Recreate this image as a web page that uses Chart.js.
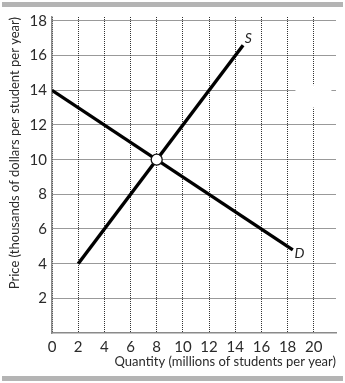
<!DOCTYPE html>
<html><head><meta charset="utf-8">
<script src="https://cdn.jsdelivr.net/npm/chart.js@4"></script>
<style>
html,body{margin:0;padding:0;background:#fff;width:345px;height:383px;overflow:hidden;}
#wrap{position:absolute;left:0;top:0;width:345px;height:383px;}
.bar{position:absolute;left:2px;width:341px;height:5px;background:#b4b4b4;}
</style></head>
<body>
<div id="wrap"><canvas id="c" width="345" height="383"></canvas></div>
<div class="bar" style="top:2px"></div>
<div class="bar" style="top:376px"></div>
<script>
const supplyQ = [2, 14.6];
const supplyP = [4, 16.6];
const demandQ = [0, 18.4];
const demandP = [14, 4.8];
const eqQ = [8];
const eqP = [10];
const xTicks = [0,2,4,6,8,10,12,14,16,18,20];
const yTicks = [2,4,6,8,10,12,14,16,18];
const curveNames = ['S','D'];
const curveLabelQ = [15.0, 18.9];
const curveLabelP = [17.0, 4.6];
// breaks in the printed grid: [q1, p1, q2, p2] rectangles in data units
const gridGaps = [[19.6, 13.0, 20.4, 14.25], [18.6, 13.7, 21.35, 14.3]];

const FONT = 'Lato, "DejaVu Sans", sans-serif';
const pts = (xs, ys) => xs.map((x,i)=>({x, y: ys[i]}));

const labelPlugin = {
  id:'curveLabels',
  beforeDatasetsDraw(chart){
    const {ctx, scales:{x,y}} = chart;
    ctx.save();
    ctx.fillStyle = '#fff';
    gridGaps.forEach(g=>{
      const x1 = x.getPixelForValue(g[0]), x2 = x.getPixelForValue(g[2]);
      const y1 = y.getPixelForValue(g[3]), y2 = y.getPixelForValue(g[1]);
      ctx.fillRect(x1, y1, x2-x1, y2-y1);
    });
    ctx.restore();
  },
  afterDatasetsDraw(chart){
    const {ctx, scales:{x,y}} = chart;
    ctx.save();
    ctx.fillStyle = '#222';
    ctx.font = 'italic 14px ' + FONT;
    ctx.textAlign = 'center';
    ctx.textBaseline = 'middle';
    curveNames.forEach((n,i)=>{
      ctx.fillText(n, x.getPixelForValue(curveLabelQ[i]), y.getPixelForValue(curveLabelP[i]));
    });
    ctx.restore();
  }
};

new Chart(document.getElementById('c'), {
  type:'scatter',
  data:{
    datasets:[
      {data: pts(supplyQ, supplyP), showLine:true, borderColor:'#000', borderWidth:3.4, pointRadius:0, borderCapStyle:'butt', order:2},
      {data: pts(demandQ, demandP), showLine:true, borderColor:'#000', borderWidth:3.4, pointRadius:0, borderCapStyle:'butt', order:1},
      {data: pts(eqQ, eqP), pointRadius:5.5, pointBackgroundColor:'#fff', pointBorderColor:'#111', pointBorderWidth:1.3, order:0}
    ]
  },
  options:{
    responsive:false, animation:false,
    layout:{padding:{top:17, right:9}},
    plugins:{legend:{display:false}, tooltip:{enabled:false}},
    scales:{
      x:{
        type:'linear', min:0, max:21.7,
        afterBuildTicks: s => { s.ticks = xTicks.map(v=>({value:v})); },
        afterFit: s => { s.height = 50; },
        ticks:{color:'#2a2a2a', font:{family:FONT, size:15}, padding:5},
        grid:{color:'#333', lineWidth:1, drawTicks:false},
        border:{color:'#8a8a8a', width:1.5, dash:[1,1]},
        title:{display:true, text:'Quantity (millions of students per year)', align:'end', color:'#2a2a2a', font:{family:FONT, size:13}, padding:{top:0,bottom:13}}
      },
      y:{
        type:'linear', min:0, max:18.23,
        afterBuildTicks: s => { s.ticks = yTicks.map(v=>({value:v})); },
        afterFit: s => { s.width = 52; },
        ticks:{color:'#2a2a2a', font:{family:FONT, size:15}, padding:5},
        grid:{color:'#333', lineWidth:1, drawTicks:false},
        border:{color:'#8a8a8a', width:1.5, dash:[1,1]},
        title:{display:true, text:'Price (thousands of dollars per student per year)', align:'end', color:'#2a2a2a', font:{family:FONT, size:13}, padding:{top:7,bottom:0}}
      }
    }
  },
  plugins:[labelPlugin]
});
</script>
</body></html>
